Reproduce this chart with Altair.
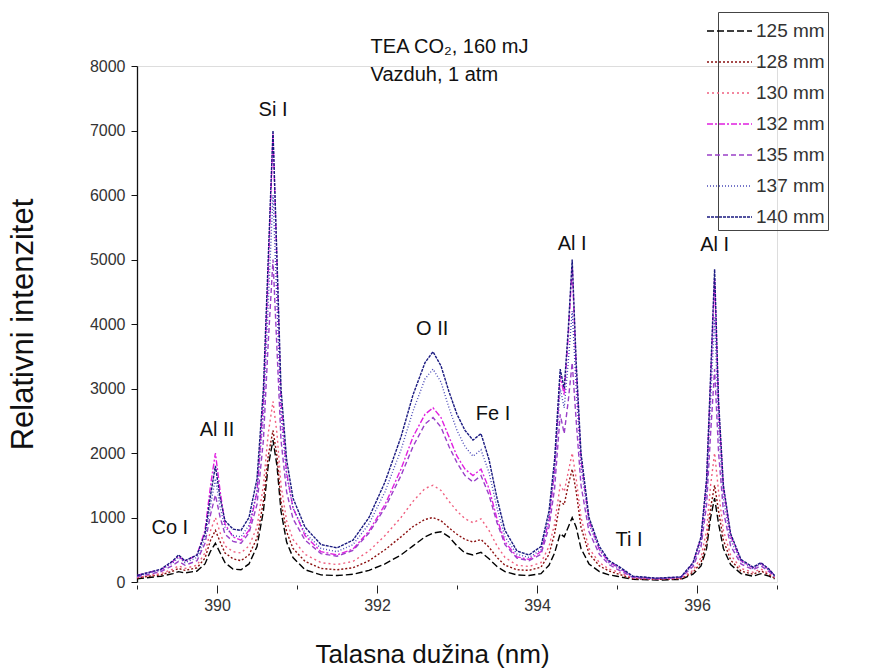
import altair as alt
import pandas as pd

wavelength = [389.00, 389.15, 389.30, 389.45, 389.52, 389.60, 389.75, 389.85, 389.92, 389.98,
              390.04, 390.10, 390.20, 390.30, 390.40, 390.50, 390.58, 390.64, 390.70, 390.75,
              390.80, 390.87, 390.95, 391.10, 391.30, 391.50, 391.70, 391.90, 392.10, 392.30,
              392.45, 392.60, 392.70, 392.80, 392.90, 393.00, 393.10, 393.20, 393.30, 393.40,
              393.50, 393.60, 393.75, 393.90, 394.05, 394.15, 394.22, 394.29, 394.34, 394.39,
              394.44, 394.49, 394.55, 394.65, 394.78, 394.90, 395.00, 395.20, 395.50, 395.80,
              395.95, 396.05, 396.12, 396.17, 396.22, 396.27, 396.33, 396.42, 396.55, 396.70,
              396.80, 396.90, 396.97]

s125 = [50, 70, 90, 130, 160, 140, 170, 280, 480, 600,
        450, 300, 200, 190, 280, 550, 1100, 1800, 2200, 1800,
        1100, 620, 380, 190, 110, 100, 120, 180, 280, 420,
        560, 700, 760, 780, 700, 560, 450, 420, 460, 360,
        240, 160, 110, 100, 130, 260, 450, 750, 700, 850,
        1000, 850, 520, 280, 160, 110, 90, 40, 30, 40,
        120, 250, 520, 1000, 1300, 900, 520, 270, 130, 90,
        130, 90, 50]
s128 = [60, 90, 110, 170, 210, 180, 220, 370, 650, 800,
        620, 450, 360, 330, 420, 680, 1250, 1950, 2350, 1950,
        1250, 780, 520, 320, 210, 190, 220, 330, 500, 700,
        860, 970, 1000, 950, 840, 740, 660, 620, 660, 540,
        380, 260, 190, 180, 230, 430, 750, 1250, 1200, 1500,
        1750, 1400, 850, 440, 250, 170, 130, 50, 40, 50,
        150, 300, 620, 1150, 1500, 1100, 650, 340, 170, 120,
        170, 110, 60]
s130 = [70, 100, 130, 200, 250, 210, 260, 450, 800, 1000,
        760, 560, 470, 450, 560, 850, 1500, 2300, 2800, 2300,
        1500, 950, 660, 430, 300, 270, 320, 480, 720, 1000,
        1250, 1450, 1500, 1420, 1250, 1100, 980, 920, 980, 800,
        560, 380, 260, 240, 300, 550, 900, 1500, 1400, 1700,
        2000, 1600, 1000, 520, 300, 200, 160, 60, 45, 60,
        180, 380, 800, 1500, 2000, 1400, 800, 420, 210, 150,
        200, 130, 70]
s132 = [100, 150, 190, 320, 400, 320, 420, 800, 1500, 2000,
        1400, 900, 700, 650, 800, 1400, 2800, 4800, 6950, 4900,
        2800, 1700, 1150, 720, 470, 420, 510, 790, 1200, 1750,
        2250, 2600, 2700, 2550, 2250, 1950, 1750, 1650, 1750, 1450,
        980, 620, 390, 350, 470, 950, 1750, 3200, 2900, 3800,
        4900, 3300, 1900, 950, 500, 310, 240, 80, 55, 75,
        290, 680, 1550, 3100, 4700, 2700, 1450, 720, 330, 220,
        290, 190, 100]
s135 = [80, 120, 160, 260, 320, 260, 330, 600, 1050, 1350,
        1000, 740, 630, 600, 760, 1200, 2200, 3700, 5000, 3600,
        2200, 1400, 980, 650, 440, 400, 490, 760, 1150, 1650,
        2100, 2450, 2550, 2400, 2100, 1850, 1650, 1550, 1650, 1350,
        920, 580, 370, 330, 430, 850, 1450, 2600, 2300, 2800,
        3400, 2500, 1500, 780, 430, 270, 200, 70, 50, 70,
        240, 540, 1200, 2300, 3300, 2000, 1100, 560, 280, 190,
        250, 160, 80]
s137 = [90, 140, 180, 300, 380, 300, 380, 680, 1200, 1600,
        1150, 850, 720, 700, 880, 1400, 2600, 4300, 6000, 4300,
        2600, 1650, 1150, 760, 520, 470, 580, 900, 1400, 2050,
        2650, 3150, 3300, 3100, 2700, 2350, 2100, 1950, 2050, 1700,
        1150, 700, 430, 380, 500, 1000, 1700, 3000, 2700, 3400,
        4200, 3000, 1800, 900, 500, 300, 230, 80, 55, 75,
        270, 620, 1400, 2800, 4100, 2400, 1300, 650, 320, 210,
        280, 180, 90]
s140 = [100, 150, 200, 330, 420, 330, 420, 750, 1350, 1800,
        1300, 950, 820, 800, 1000, 1600, 3000, 5000, 7000, 5000,
        3000, 1900, 1300, 850, 580, 530, 650, 1000, 1550, 2250,
        2900, 3400, 3570, 3350, 2950, 2600, 2350, 2200, 2300, 1900,
        1300, 800, 480, 420, 550, 1100, 1900, 3300, 3000, 3900,
        5000, 3400, 2000, 1000, 550, 330, 260, 90, 60, 80,
        300, 700, 1600, 3200, 4850, 2800, 1500, 750, 350, 230,
        300, 200, 100]

series_labels = ["125 mm", "128 mm", "130 mm", "132 mm", "135 mm", "137 mm", "140 mm"]
series_values = [s125, s128, s130, s132, s135, s137, s140]
series_colors = ["#000000", "#8B1010", "#F06080", "#E020E0", "#9A40C8", "#4A4AB8", "#1A1A80"]
series_dashes = [[7, 3], [2, 2], [2, 3], [6, 2, 2, 2], [5, 3], [1, 2], [3, 1]]

ann_text = ["Co I", "Al II", "Si I", "O II", "Fe I", "Al I", "Ti I", "Al I"]
ann_x = [389.41, 390.0, 390.7, 392.69, 393.45, 394.44, 395.15, 396.22]
ann_y = [840, 2360, 7320, 3920, 2600, 5240, 650, 5220]

info_text = ["TEA CO₂, 160 mJ", "Vazduh, 1 atm"]
info_x = [391.92, 391.92]
info_y = [8300, 7860]

rows = []
for lab, vals in zip(series_labels, series_values):
    for w, v in zip(wavelength, vals):
        rows.append({"w": w, "I": v, "s": lab})
df = pd.DataFrame(rows)

ann = pd.DataFrame({"x": ann_x, "y": ann_y, "t": ann_text})
info = pd.DataFrame({"x": info_x, "y": info_y, "t": info_text})

FONT = "Liberation Sans"

xscale = alt.Scale(domain=[389, 397], nice=False, zero=False)
yscale = alt.Scale(domain=[0, 8000], nice=False)

leg = alt.Legend(title=None, orient="none", legendX=581, legendY=-54,
                 symbolType="M-2,0H1", symbolSize=900, symbolStrokeWidth=1.4,
                 labelFont=FONT, labelFontSize=19, labelColor="#333",
                 rowPadding=5, padding=3, strokeColor="#444", labelOffset=3)

lines = alt.Chart(df).mark_line(strokeWidth=1.4, clip=True).encode(
    x=alt.X("w:Q", scale=xscale,
            axis=alt.Axis(title="Talasna dužina (nm)", values=[389, 390, 391, 392, 393, 394, 395, 396, 397],
                          labelExpr="datum.value % 2 === 0 ? datum.label : ''",
                          domain=False, grid=False, offset=3,
                          tickSize={"condition": {"test": "datum.value % 2 === 0", "value": 8}, "value": 4},
                          tickColor="#222", labelFont=FONT, labelFontSize=16, labelColor="#333",
                          labelPadding=4, titleFont=FONT, titleFontSize=26, titleFontWeight="normal",
                          titleColor="#111", titlePadding=28, titleX=295, format="d")),
    y=alt.Y("I:Q", scale=yscale,
            axis=alt.Axis(title="Relativni intenzitet",
                          values=list(range(0, 8001, 500)),
                          labelExpr="datum.value % 1000 === 0 ? datum.label : ''",
                          format="d", grid=False, domainColor="#111", domainWidth=1.3,
                          tickSize={"condition": {"test": "datum.value % 1000 === 0", "value": 6}, "value": 4},
                          tickColor="#111", labelFont=FONT, labelFontSize=16, labelColor="#333",
                          labelPadding=6, titleFont=FONT, titleFontSize=31, titleFontWeight="normal",
                          titleColor="#111", titlePadding=50)),
    color=alt.Color("s:N", scale=alt.Scale(domain=series_labels, range=series_colors), legend=leg),
    strokeDash=alt.StrokeDash("s:N", scale=alt.Scale(domain=series_labels, range=series_dashes),
                              legend=leg),
    order=alt.Order("s:N"),
)

labels = alt.Chart(ann).mark_text(font=FONT, fontSize=20, color="#111", baseline="middle").encode(
    x=alt.X("x:Q", scale=xscale), y=alt.Y("y:Q", scale=yscale), text="t:N")

infot = alt.Chart(info).mark_text(font=FONT, fontSize=20, color="#111", align="left",
                                  baseline="middle").encode(
    x=alt.X("x:Q", scale=xscale), y=alt.Y("y:Q", scale=yscale), text="t:N")

chart = alt.layer(lines, labels, infot).properties(
    width=640, height=516,
    autosize=alt.AutoSizeParams(type="none"),
    padding={"left": 137, "top": 66, "right": 98, "bottom": 89},
).configure_view(stroke=None).configure(background="white")

chart.save("out.html", embed_options={"renderer": "svg", "actions": False})
